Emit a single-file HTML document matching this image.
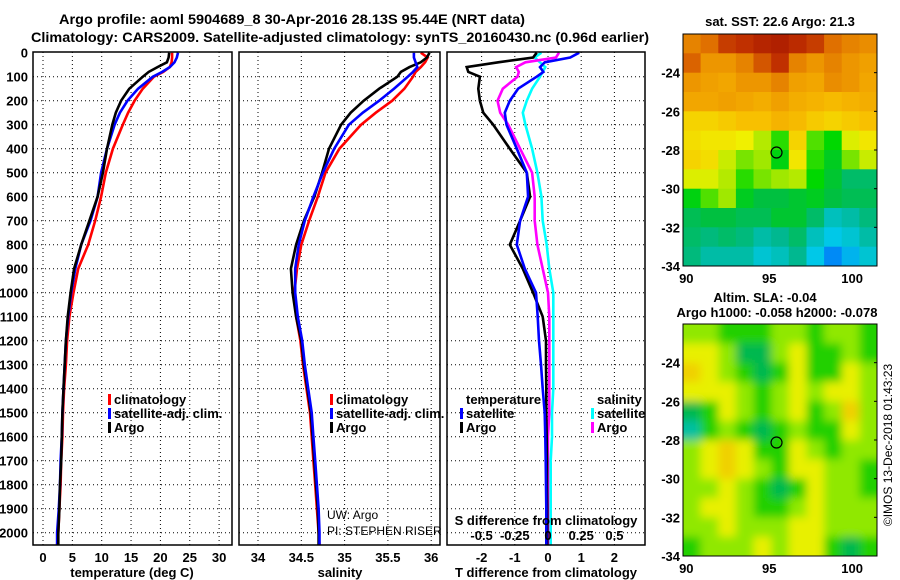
<!DOCTYPE html>
<html><head><meta charset="utf-8"><style>
body{margin:0;background:#fff}
svg{display:block;font-family:"Liberation Sans",sans-serif}
.b{font-weight:bold;font-size:13px}
</style></head><body>
<svg id="c" width="900" height="580" viewBox="0 0 900 580" xmlns="http://www.w3.org/2000/svg">
<defs>
<clipPath id="cm1"><rect x="683" y="34" width="194" height="232"/></clipPath>
<clipPath id="cm2"><rect x="683" y="324" width="194" height="232"/></clipPath>
<filter id="bl" x="-10%" y="-10%" width="120%" height="120%"><feGaussianBlur stdDeviation="4.5"/></filter>
</defs>
<text x="292" y="24" text-anchor="middle" style="font-weight:bold;font-size:14px" textLength="466" lengthAdjust="spacingAndGlyphs">Argo profile: aoml 5904689_8 30-Apr-2016 28.13S 95.44E (NRT data)</text>
<text x="340" y="42" text-anchor="middle" style="font-weight:bold;font-size:14px" textLength="618" lengthAdjust="spacingAndGlyphs">Climatology: CARS2009. Satellite-adjusted climatology: synTS_20160430.nc (0.96d earlier)</text>
<g id="g"></g>
</svg>
<script>
const depths=[0,20,40,60,80,100,150,200,250,300,400,500,600,700,800,900,1000,1100,1200,1300,1400,1500,1600,1700,1800,1900,2000,2050];
const tArgo=[21.5,21.4,21.1,19.5,18.0,17.0,14.7,13.3,12.4,11.8,10.9,10.2,9.3,7.9,6.5,5.3,4.7,4.2,3.9,3.7,3.5,3.3,3.2,3.1,2.9,2.8,2.6,2.6];
const tClim=[22.0,22.0,21.9,21.6,20.5,18.9,17.0,15.6,14.5,13.6,11.9,10.7,9.9,8.9,7.7,6.0,5.2,4.5,4.1,3.9,3.6,3.4,3.3,3.1,3.0,2.8,2.6,2.4];
const tSat=[23.0,22.8,22.4,21.6,20.3,18.7,16.2,14.4,13.1,12.2,10.9,9.9,9.3,8.1,6.5,5.5,4.8,4.3,3.9,3.7,3.5,3.3,3.2,3.0,2.9,2.7,2.4,2.4];
const sArgo=[35.98,35.95,35.88,35.75,35.65,35.61,35.40,35.22,35.07,34.96,34.82,34.74,34.65,34.53,34.44,34.38,34.40,34.44,34.50,34.53,34.57,34.61,34.63,34.65,34.67,34.69,34.70,34.70];
const sClim=[35.88,35.96,35.93,35.88,35.82,35.79,35.69,35.55,35.36,35.19,34.94,34.78,34.69,34.59,34.50,34.45,34.42,34.44,34.49,34.52,34.56,34.60,34.62,34.64,34.66,34.68,34.70,34.71];
const sSat=[35.80,35.80,35.82,35.84,35.79,35.73,35.57,35.40,35.21,35.05,34.88,34.75,34.64,34.54,34.47,34.43,34.43,34.46,34.51,34.54,34.58,34.62,34.64,34.66,34.68,34.70,34.71,34.71];
const dTArgo=[-0.34,-0.45,-1.5,-2.45,-2.4,-2.05,-2.1,-2.05,-1.95,-1.65,-1.15,-0.64,-0.54,-0.84,-1.15,-0.76,-0.45,-0.16,-0.06,-0.06,-0.05,-0.05,-0.04,-0.03,-0.03,-0.02,-0.02,-0.02];
const dTSat=[0.94,0.67,-0.1,-0.24,-0.14,-0.34,-0.9,-1.15,-1.3,-1.25,-0.94,-0.64,-0.6,-0.84,-0.94,-0.7,-0.36,-0.31,-0.27,-0.21,-0.16,-0.1,-0.08,-0.07,-0.06,-0.05,-0.05,-0.05];
const dSArgo=[0.083,0.06,-0.17,-0.24,-0.22,-0.23,-0.34,-0.38,-0.36,-0.30,-0.21,-0.12,-0.10,-0.10,-0.08,-0.04,0.0,0.01,0.01,0.01,0.01,0.01,0.0,0.0,0.0,0.0,0.0,0.0];
const dSSat=[-0.05,-0.10,-0.06,-0.02,-0.04,-0.06,-0.12,-0.16,-0.19,-0.17,-0.12,-0.08,-0.05,-0.04,-0.01,0.01,0.04,0.04,0.04,0.04,0.04,0.03,0.03,0.02,0.02,0.02,0.02,0.02];
const depthTicks=[0,100,200,300,400,500,600,700,800,900,1000,1100,1200,1300,1400,1500,1600,1700,1800,1900,2000];
const tTicks=[0,5,10,15,20,25,30];
const sTicks=[34,34.5,35,35.5,36];
const dTTicks=[-2,-1,0,1,2];
const dSTickLabels=["-0.5","-0.25","0","0.25","0.5"];
const dSTicks=[-0.5,-0.25,0,0.25,0.5];
const sstGrid=[
[23.6,23.8,24.2,24.3,24.5,24.6,24.4,24.2,23.8,23.6,23.5],
[23.9,23.4,23.4,23.6,24.0,24.3,23.6,23.4,23.6,23.4,23.3],
[23.4,23.3,23.2,23.4,23.4,23.6,23.3,23.2,23.5,23.4,23.2],
[23.2,23.2,23.3,23.2,23.1,23.3,23.1,23.0,22.9,23.0,23.1],
[22.6,22.6,22.7,22.8,22.8,23.0,22.9,22.7,22.6,22.7,22.8],
[22.5,22.4,22.4,22.3,22.0,21.6,22.6,21.7,21.5,22.2,22.4],
[22.6,22.5,22.1,21.8,21.9,21.4,22.4,21.6,21.3,21.8,22.1],
[22.2,22.2,22.0,21.6,21.8,21.9,22.0,21.5,21.2,20.9,20.9],
[21.4,21.7,21.9,21.3,21.1,21.1,21.2,21.3,21.1,21.0,21.0],
[21.0,21.1,21.1,21.0,21.0,21.2,21.2,20.9,20.5,20.6,20.8],
[20.9,20.8,20.9,20.8,20.6,20.7,20.9,20.5,20.3,20.4,20.6],
[20.8,20.6,20.6,20.6,20.4,20.5,20.7,20.3,20.0,20.2,20.4]];
const slaGrid=[
[2,2,3,3,3,2,2,3,2,2,3],[1,1,2,4,4,2,1,3,3,2,3],[0,1,2,3,4,3,1,3,3,1,2],[1,1,1,2,3,2,1,2,1,1,2],
[4,3,1,2,3,2,1,3,2,0,2],[5,3,2,3,4,3,2,3,3,1,2],[2,1,0,1,3,3,1,2,3,2,2],[2,1,0,1,2,3,1,1,2,2,3],
[2,2,1,2,3,4,3,1,2,2,3],[2,1,1,2,3,3,2,1,2,2,2],[2,2,1,2,2,2,1,1,2,2,2],[3,2,2,2,1,2,1,1,3,4,3]];
const latTicks=[-24,-26,-28,-30,-32,-34];
const lonTicks=[90,95,100];
const argoLon=95.44, argoLat=-28.13;

const NS="http://www.w3.org/2000/svg";
const G=document.getElementById('g');
function mk(tag,at,txt,par){const e=document.createElementNS(NS,tag);for(const k in at)e.setAttribute(k,at[k]);if(txt!==undefined)e.textContent=txt;(par||G).appendChild(e);return e;}
const yD=d=>52.7+0.24*d;
const xT=t=>43+t*5.87, xS=s=>258+(s-34)*86.6, xDT=v=>548+v*33.2, xDS=v=>548+v*132.8;
const Y0=52,Y1=545;
const panels=[{x0:33,x1:232,name:'temperature-panel'},{x0:239,x1:440,name:'salinity-panel'},{x0:447,x1:645,name:'difference-panel'}];
panels.forEach((p,i)=>{
  depthTicks.slice(1).forEach(d=>{const l=mk('line',{x1:p.x0,x2:p.x1,y1:yD(d),y2:yD(d),stroke:'#000','stroke-width':1,'stroke-dasharray':'1,3'});
    
    });
});
const vg=[[tTicks,xT,0],[sTicks,xS,1],[dTTicks,xDT,2]];
vg.forEach(([ticks,f,i])=>{const p=panels[i];ticks.forEach(t=>{const x=f(t);if(x<=p.x0+2||x>=p.x1-2)return;
  const l=mk('line',{x1:x,x2:x,y1:Y0,y2:Y1,stroke:'#000','stroke-width':1,'stroke-dasharray':'1,3'});
  
  });});
function series(vals,f,color,name,dep){const pts=vals.map((v,i)=>f(v).toFixed(1)+','+yD((dep||depths)[i]).toFixed(1)).join(' ');
  const pl=mk('polyline',{points:pts,fill:'none',stroke:color,'stroke-width':2.6,'stroke-linejoin':'miter'});
  
  }
series(tClim,xT,'#f00','temp-climatology-line');series(tSat,xT,'#00f','temp-satellite-line');series(tArgo,xT,'#000','temp-argo-line');
series(sClim,xS,'#f00','sal-climatology-line');series(sArgo,xS,'#000','sal-argo-line');series(sSat,xS,'#00f','sal-satellite-line');
series(dSSat,xDS,'#0ff','sdiff-satellite-line');series(dSArgo,xDS,'#f0f','sdiff-argo-line');series(dTArgo,xDT,'#000','tdiff-argo-line');series(dTSat,xDT,'#00f','tdiff-satellite-line');
panels.forEach(p=>{const r=mk('rect',{x:p.x0,y:Y0,width:p.x1-p.x0,height:Y1-Y0,fill:'none',stroke:'#000','stroke-width':1.5});
  
  });
depthTicks.forEach(d=>{const t=mk('text',{x:28,y:yD(d)+5,'text-anchor':'end',class:'b'},String(d));
  
  });
function xlabels(ticks,f,labels,y){ticks.forEach((t,i)=>{const e=mk('text',{x:f(t),y:y,'text-anchor':'middle',class:'b'},labels?labels[i]:String(t));
  
  });}
xlabels(tTicks,xT,null,562);xlabels(sTicks,xS,null,562);xlabels(dTTicks,xDT,null,562);xlabels(dSTicks,xDS,dSTickLabels,540);
[['temperature (deg C)',132,'temp-axis-title'],['salinity',340,'sal-axis-title'],['T difference from climatology',546,'tdiff-axis-title']].forEach(([s,x,n])=>{
  const e=mk('text',{x:x,y:577,'text-anchor':'middle',class:'b'},s);});
const st=mk('text',{x:546,y:525,'text-anchor':'middle',class:'b'},'S difference from climatology');


function leg(x,y,color,label){const r=mk('rect',{x:x,y:y-10,width:3,height:11,fill:color});
  
  
  const t=mk('text',{x:x+6,y:y,class:'b'},label);
  
  }
[[108,'temp'],[330,'sal']].forEach(([x])=>{leg(x,404,'#f00','climatology');leg(x,418,'#00f','satellite-adj. clim.');leg(x,432,'#000','Argo');});
const lt=mk('text',{x:466,y:404,class:'b'},'temperature');
const ls=mk('text',{x:597,y:404,class:'b'},'salinity');
leg(460,418,'#00f','satellite');leg(460,432,'#000','Argo');leg(591,418,'#0ff','satellite');leg(591,432,'#f0f','Argo');
const u1=mk('text',{x:327,y:519,'font-size':12},'UW: Argo');
const u2=mk('text',{x:327,y:535,'font-size':12},'PI: STEPHEN RISER');
const lonMin=89.8,lonMax=101.5,latMax=-22,latMin=-34;
const mx=lon=>683+(lon-lonMin)/(lonMax-lonMin)*194;
function my(top){return lat=>top+(latMax-lat)/(latMax-latMin)*232;}
const sstStops=[[19.8,[0,96,255]],[20.3,[0,200,232]],[20.7,[0,184,144]],[21.1,[0,192,64]],[21.5,[0,216,0]],[21.9,[160,232,0]],[22.3,[240,240,0]],[22.8,[248,192,0]],[23.3,[240,160,0]],[23.8,[224,112,0]],[24.3,[192,48,0]],[24.6,[176,32,0]]];
function sstColor(v){for(let i=1;i<sstStops.length;i++){if(v<=sstStops[i][0]){const a=sstStops[i-1],b=sstStops[i],f=Math.max(0,(v-a[0])/(b[0]-a[0]));
  return 'rgb('+a[1].map((c,k)=>Math.round(c+(b[1][k]-c)*f)).join(',')+')';}}return 'rgb(176,32,0)';}
const slaColors=['#f0d000','#e8f000','#90e800','#20d000','#00b850','#00c0a0'];
function map(top,grid,colorFn,clip,blur,name,titleLines){
  const yL=my(top);const nC=grid[0].length,nR=grid.length;const dLon=(lonMax-lonMin)/nC,dLat=(latMax-latMin)/nR;
  const gg=mk('g',{'clip-path':'url(#'+clip+')'});
  const inner=mk('g',blur?{filter:'url(#bl)'}:{},undefined,gg);
  if(blur){mk('rect',{x:660,y:top-20,width:240,height:272,fill:colorFn(2)},undefined,inner);}
  grid.forEach((row,r)=>row.forEach((v,c)=>{const x0=mx(lonMin+c*dLon),y0=yL(latMax-r*dLat);
    const ext=blur&&(c==0||c==nC-1||r==0||r==nR-1)?12:0;
    const e=mk('rect',{x:(x0-(c==0?ext:0)).toFixed(1),y:(y0-(r==0?ext:0)).toFixed(1),width:(mx(lonMin+(c+1)*dLon)-x0+0.6+ext).toFixed(1),height:(yL(latMax-(r+1)*dLat)-y0+0.6+ext).toFixed(1),fill:colorFn(v)},undefined,inner);
    
    }));
  const fr=mk('rect',{x:683,y:top,width:194,height:232,fill:'none',stroke:'#000','stroke-width':1});
  const ci=mk('circle',{cx:mx(argoLon),cy:yL(argoLat),r:5.5,fill:'none',stroke:'#000','stroke-width':1.2});
  latTicks.forEach(l=>{const t=mk('text',{x:680,y:yL(l)+5,'text-anchor':'end',class:'b'},String(l));
    const k=mk('line',{x1:877,x2:874,y1:yL(l),y2:yL(l),stroke:'#000'});});
  lonTicks.forEach(l=>{const t=mk('text',{x:mx(l),y:top+249,'text-anchor':'middle',class:'b'},String(l));});
  titleLines.forEach(([s,x,y])=>{const t=mk('text',{x:x,y:y,'text-anchor':'middle',class:'b'},s);});
}
map(34,sstGrid,sstColor,'cm1',false,'sst-map',[['sat. SST: 22.6 Argo: 21.3',780,26]]);
map(324,slaGrid,v=>slaColors[v],'cm2',true,'sla-map',[['Altim. SLA: -0.04',765,302],['Argo h1000: -0.058 h2000: -0.078',777,317]]);
const cp=mk('text',{x:0,y:0,'font-size':12,'text-anchor':'middle',transform:'translate(892,445) rotate(-90)'},'©IMOS 13-Dec-2018 01:43:23');


</script>
</body></html>
